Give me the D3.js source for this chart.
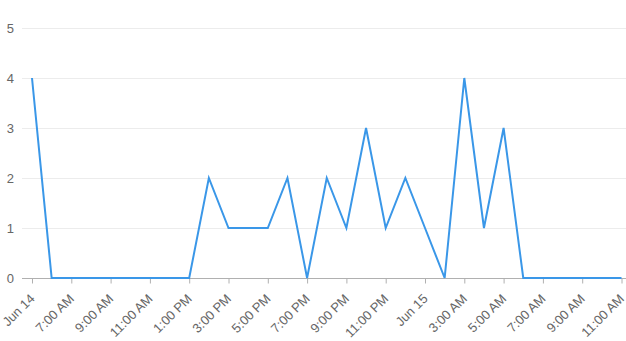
<!DOCTYPE html>
<html>
<head>
<meta charset="utf-8">
<script src="https://cdn.jsdelivr.net/npm/d3@7"></script>
<style>
  body { margin: 0; background: #fff; }
  svg { display: block; font-family: "Liberation Sans", Arial, sans-serif; }
  .grid line { stroke: #ececec; }
  .x-axis path, .x-axis line { stroke: #b0b0b0; }
</style>
</head>
<body>
<div id="chart"></div>
<script>
// hourly counts, starting at the "Jun 14" tick
var start = new Date(2024, 5, 14, 5, 0);
var counts = [4, 0, 0, 0, 0, 0, 0, 0, 0, 2, 1, 1, 1, 2, 0, 2, 1, 3, 1, 2, 1, 0, 4, 1, 3, 0, 0, 0, 0, 0, 0];
var tickLabels = ["Jun 14", "7:00 AM", "9:00 AM", "11:00 AM", "1:00 PM", "3:00 PM", "5:00 PM", "7:00 PM",
                  "9:00 PM", "11:00 PM", "Jun 15", "3:00 AM", "5:00 AM", "7:00 AM", "9:00 AM", "11:00 AM"];
var yTicks = [0, 1, 2, 3, 4, 5];

var width = 626, height = 341;
var margin = {top: 28, right: 4, bottom: 63, left: 32};

var data = counts.map(function(c, i) {
    return {time: d3.timeHour.offset(start, i), count: c};
});
var tickDates = tickLabels.map(function(l, i) { return d3.timeHour.offset(start, i * 2); });

var x = d3.scaleTime()
    .domain([start, d3.timeHour.offset(start, 30)])
    .range([margin.left, 621.5]);

var y = d3.scaleLinear()
    .domain([0, 5])
    .range([height - margin.bottom, margin.top]);

var svg = d3.select("#chart").append("svg")
    .attr("width", width)
    .attr("height", height);

// gridlines
svg.append("g")
    .attr("class", "grid")
    .selectAll("line")
    .data(yTicks.filter(function(d) { return d > 0; }))
    .enter().append("line")
    .attr("x1", 22)
    .attr("x2", width)
    .attr("y1", function(d) { return Math.round(y(d)) + 0.5; })
    .attr("y2", function(d) { return Math.round(y(d)) + 0.5; });

// y labels
svg.append("g")
    .selectAll("text")
    .data(yTicks)
    .enter().append("text")
    .attr("x", 14)
    .attr("y", function(d) { return y(d); })
    .attr("dy", "0.36em")
    .style("text-anchor", "end")
    .style("font-size", "13px")
    .style("fill", "#666")
    .text(function(d) { return d; });

// x axis
var xAxis = d3.axisBottom(x)
    .tickValues(tickDates)
    .tickSize(5)
    .tickSizeOuter(0)
    .tickFormat(function(d, i) { return tickLabels[i]; });

var gx = svg.append("g")
    .attr("class", "x-axis")
    .attr("transform", "translate(0," + (Math.round(y(0)) + 0.5) + ")")
    .call(xAxis);

gx.select(".domain").attr("d", "M22,0H" + width);

gx.selectAll("text")
    .attr("x", 0)
    .attr("y", 0)
    .attr("dy", 0)
    .style("text-anchor", "end")
    .style("font-size", "13px")
    .style("fill", "#666")
    .attr("transform", "translate(3,21) rotate(-45)");

// line
var line = d3.line()
    .x(function(d) { return x(d.time); })
    .y(function(d) { return y(d.count); });

svg.append("path")
    .datum(data)
    .attr("fill", "none")
    .attr("stroke", "#3a97e8")
    .attr("stroke-width", 2)
    .attr("d", line);
</script>
</body>
</html>
